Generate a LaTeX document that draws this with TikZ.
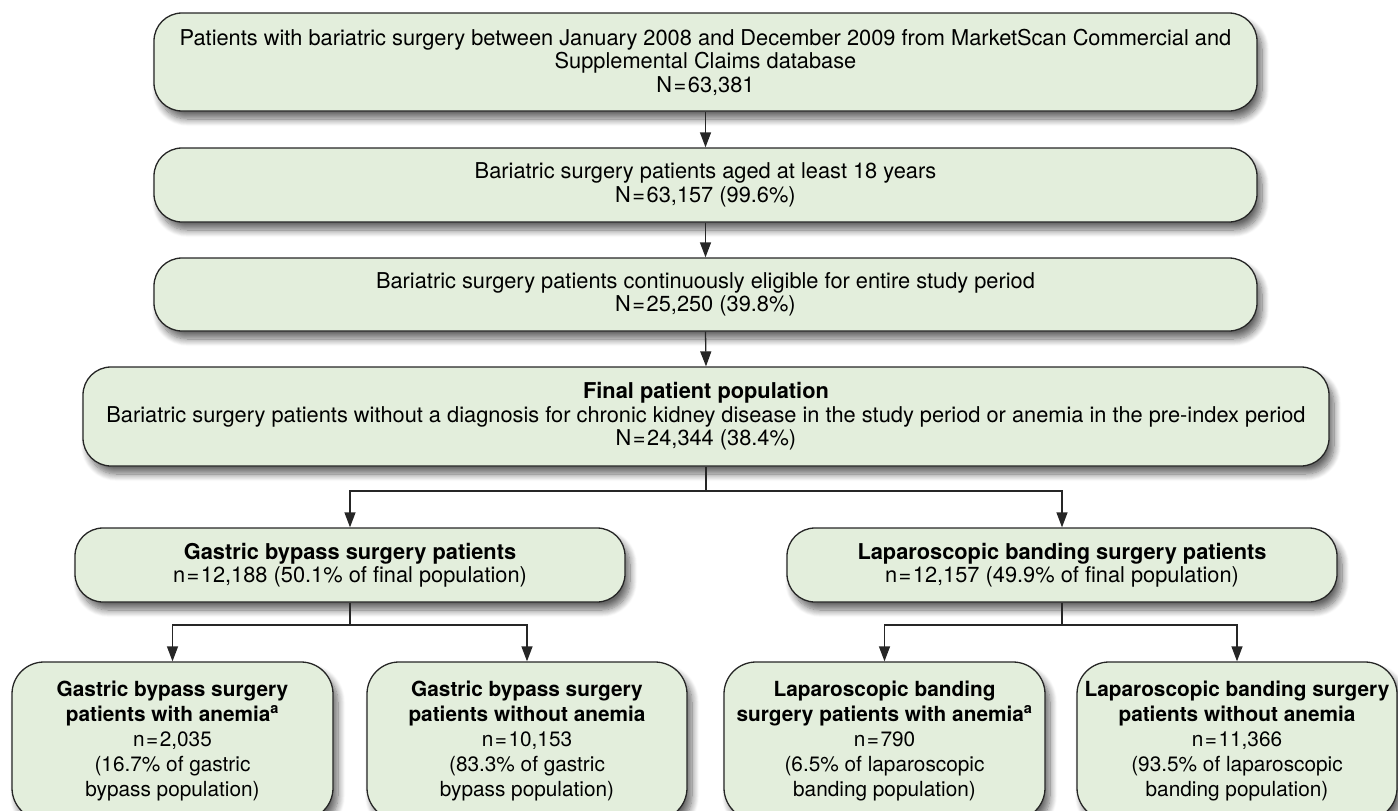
\documentclass[tikz,border=0pt]{standalone}
\usepackage{fontspec}
\setmainfont{TeX Gyre Heros}
\usetikzlibrary{arrows.meta,shadows.blur}
\definecolor{boxfill}{RGB}{227,238,220}
\tikzset{
  box/.style={draw=black!85, line width=1.3pt, fill=boxfill, rounded corners=28pt,
    align=center, inner sep=0pt, font=\fontsize{21.8}{23.5}\selectfont,
    blur shadow={shadow xshift=5pt, shadow yshift=-8pt, shadow blur radius=7pt, shadow blur steps=10, shadow opacity=60}},
  small/.style={box, font=\fontsize{20.8}{25}\selectfont, rounded corners=32pt},
  arr/.style={line width=1.3pt, draw=black!85, -{Triangle[length=15pt,width=11pt]}},
  ln/.style={line width=1.3pt, draw=black!85}
}
\newcommand{\eqs}{\kern1.5pt=\kern1.5pt}
\begin{document}
\begin{tikzpicture}[x=1pt,y=1pt]
\useasboundingbox (0,0) rectangle (1398,-811);
\node[box, minimum width=1103pt, minimum height=98pt] (n1) at (705.5,-62)
  {Patients with bariatric surgery between January 2008 and December 2009 from MarketScan Commercial and\\
   Supplemental Claims database\\ N\eqs63,381};
\node[box, minimum width=1103pt, minimum height=74pt] (n2) at (705.5,-185)
  {Bariatric surgery patients aged at least 18 years\\ N\eqs63,157 (99.6\%)};
\node[box, minimum width=1103pt, minimum height=73pt] (n3) at (705.5,-294.5)
  {Bariatric surgery patients continuously eligible for entire study period\\ N\eqs25,250 (39.8\%)};
\node[box, minimum width=1246pt, minimum height=99pt] (n4) at (706,-416.5)
  {\textbf{Final patient population}\\
   Bariatric surgery patients without a diagnosis for chronic kidney disease in the study period or anemia in the pre-index period\\
   N\eqs24,344 (38.4\%)};
\node[box, minimum width=550pt, minimum height=74pt] (gb) at (350,-565)
  {\textbf{Gastric bypass surgery patients}\\ n\eqs12,188 (50.1\% of final population)};
\node[box, minimum width=550pt, minimum height=74pt] (lb) at (1062,-565)
  {\textbf{Laparoscopic banding surgery patients}\\ n\eqs12,157 (49.9\% of final population)};
\node[small, minimum width=321pt, minimum height=158pt] (a) at (172.5,-741)
  {\textbf{Gastric bypass surgery}\\ \textbf{patients with anemia\textsuperscript{a}}\\ n\eqs2,035\\ (16.7\% of gastric\\ bypass population)};
\node[small, minimum width=320pt, minimum height=158pt] (b) at (527,-741)
  {\textbf{Gastric bypass surgery}\\ \textbf{patients without anemia}\\ n\eqs10,153\\ (83.3\% of gastric\\ bypass population)};
\node[small, minimum width=321pt, minimum height=158pt] (c) at (884.5,-741)
  {\textbf{Laparoscopic banding}\\ \textbf{surgery patients with anemia\textsuperscript{a}}\\ n\eqs790\\ (6.5\% of laparoscopic\\ banding population)};
\node[small, minimum width=320pt, minimum height=158pt] (d) at (1237,-741)
  {\textbf{Laparoscopic banding surgery}\\ \textbf{patients without anemia}\\ n\eqs11,366\\ (93.5\% of laparoscopic\\ banding population)};
\draw[arr] (n1.south) -- (n2.north);
\draw[arr] (n2.south) -- (n3.north);
\draw[arr] (n3.south) -- (n4.north);
\coordinate (j1) at (706,-491);
\draw[ln] (n4.south) -- (j1);
\draw[arr] (j1) -| (gb.north);
\draw[arr] (j1) -| (lb.north);
\coordinate (j2) at (350,-625);
\draw[ln] (gb.south) -- (j2);
\draw[arr] (j2) -| (a.north);
\draw[arr] (j2) -| (b.north);
\coordinate (j3) at (1062,-625);
\draw[ln] (lb.south) -- (j3);
\draw[arr] (j3) -| (c.north);
\draw[arr] (j3) -| (d.north);
\end{tikzpicture}
\end{document}
